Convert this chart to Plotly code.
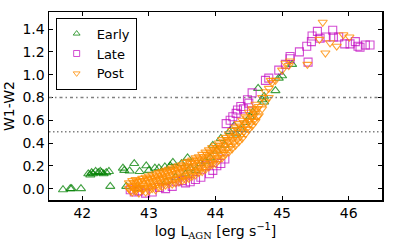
import plotly.graph_objects as go

# ---------------- data ----------------
early_x = [41.71, 41.82, 41.84, 41.98,
           42.09, 42.12, 42.14, 42.16, 42.20, 42.24, 42.27, 42.29, 42.32, 42.36, 42.40, 42.42,
           42.61, 42.63, 42.66, 42.71, 42.78, 42.84, 42.86, 42.96, 43.00, 43.09, 43.15, 43.24,
           43.26, 43.32, 43.36, 43.40, 43.49, 43.55, 43.58, 43.62, 43.70, 43.78, 43.85, 43.92,
           43.96, 44.02, 44.08, 44.14, 44.21, 44.28, 44.31, 44.38, 44.45, 44.52, 44.56, 44.64,
           44.70, 44.73, 44.73, 44.90, 44.95, 45.00, 45.15]
early_y = [-0.01, 0.00, 0.00, 0.00,
           0.13, 0.12, 0.14, 0.13, 0.15, 0.14, 0.15, 0.14, 0.13, 0.14, 0.15, 0.02,
           0.18, 0.16, 0.02, 0.155, 0.22, 0.00, 0.15, 0.20, 0.16, 0.18, 0.18, 0.19,
           0.06, 0.20, 0.23, 0.10, 0.22, 0.13, 0.27, 0.18, 0.16, 0.22, 0.24, 0.27,
           0.38, 0.33, 0.44, 0.38, 0.50, 0.55, 0.48, 0.52, 0.58, 0.63, 0.67, 0.88,
           0.78, 0.76, 0.81, 0.86, 0.97, 0.99, 1.09]

late_x = [42.72, 42.78, 42.85, 42.95, 43.05, 43.16, 43.25, 43.35, 43.41, 43.50, 43.55, 43.62,
          43.70, 43.78, 43.86, 43.91, 43.96, 44.02, 44.08, 44.14, 44.16, 44.22, 44.26, 44.31,
          44.33, 44.38, 44.42, 44.48, 44.50, 44.55, 44.75, 44.80, 44.95, 45.05, 45.12, 45.12,
          45.26, 45.37, 45.39, 45.44, 45.45, 45.53, 45.57, 45.66, 45.76, 45.77, 45.85, 45.94,
          46.02, 46.10, 46.14, 46.17, 46.25, 46.32]
late_y = [-0.01, -0.03, -0.02, -0.04, -0.03, 0.01, 0.00, 0.02, 0.06, 0.07, 0.05, 0.06,
          0.08, 0.10, 0.20, 0.13, 0.16, 0.20, 0.22, 0.26, 0.57, 0.60, 0.63, 0.66,
          0.69, 0.72, 0.70, 0.78, 0.75, 0.84, 0.95, 0.97, 1.04, 1.09, 1.16, 1.14,
          1.20, 1.25, 1.11, 1.29, 1.34, 1.38, 1.32, 1.33, 1.39, 1.33, 1.33, 1.27,
          1.27, 1.29, 1.25, 1.24, 1.26, 1.26]

post_x = [42.70, 42.70,
          42.75, 42.75, 42.75, 42.80, 42.80, 42.80, 42.85, 42.85, 42.85, 42.90, 42.90, 42.90,
          42.95, 42.95, 42.95, 43.00, 43.00, 43.00, 43.05, 43.05, 43.05, 43.10, 43.10, 43.10,
          43.15, 43.15, 43.15, 43.20, 43.20, 43.20, 43.25, 43.25, 43.25, 43.30, 43.30, 43.30,
          43.35, 43.35, 43.35, 43.40, 43.40, 43.40, 43.45, 43.45, 43.45, 43.50, 43.50, 43.50,
          43.55, 43.55, 43.55, 43.60, 43.60, 43.60, 43.65, 43.65, 43.65, 43.70, 43.70, 43.70,
          43.75, 43.75, 43.75, 43.80, 43.80, 43.80, 43.85, 43.85, 43.85, 43.90, 43.90, 43.90,
          43.95, 43.95, 43.95, 44.00, 44.00, 44.00, 44.05, 44.05, 44.05, 44.10, 44.10, 44.10,
          44.15, 44.15, 44.15, 44.20, 44.20, 44.20, 44.25, 44.25, 44.25, 44.30, 44.30, 44.30,
          44.35, 44.35, 44.35, 44.40, 44.40, 44.40, 44.45, 44.45, 44.45, 44.50, 44.50, 44.50,
          44.55, 44.55, 44.55, 44.60, 44.60, 44.60, 44.65, 44.65, 44.70, 44.70, 44.75, 44.75,
          44.80, 44.80, 44.83, 44.85, 44.90, 45.00, 45.05, 45.10, 45.12,
          45.38, 45.56, 45.61, 45.65, 45.72, 45.82, 45.92, 46.01,
          42.725, 42.725, 42.775, 42.775, 42.825, 42.825, 42.875, 42.875, 42.925, 42.925,
          42.975, 42.975, 43.025, 43.025, 43.075, 43.075, 43.125, 43.125, 43.175, 43.175,
          43.225, 43.225, 43.275, 43.275, 43.325, 43.325, 43.375, 43.375, 43.425, 43.425,
          43.475, 43.475, 43.525, 43.525, 43.575, 43.575, 43.625, 43.625, 43.675, 43.675,
          43.725, 43.725, 43.775, 43.775, 43.825, 43.825, 43.875, 43.875, 43.925, 43.925,
          43.975, 43.975, 44.025, 44.025, 44.075, 44.075, 44.125, 44.125, 44.175, 44.175,
          44.225, 44.225, 44.275, 44.275, 44.325, 44.325, 44.375, 44.375, 44.425, 44.425,
          44.475, 44.475, 44.525, 44.525, 44.575, 44.575, 44.625, 44.625]
post_y = [0.05, 0.00,
          0.07, 0.02, -0.03, 0.08, 0.03, -0.02, 0.06, 0.01, -0.04, 0.09, 0.04, -0.01,
          0.10, 0.03, -0.03, 0.11, 0.05, -0.02, 0.12, 0.06, 0.00, 0.13, 0.07, -0.01,
          0.14, 0.08, 0.01, 0.15, 0.09, 0.02, 0.16, 0.10, 0.03, 0.17, 0.11, 0.04,
          0.18, 0.12, 0.04, 0.19, 0.13, 0.05, 0.20, 0.14, 0.06, 0.21, 0.15, 0.07,
          0.23, 0.16, 0.08, 0.24, 0.17, 0.09, 0.25, 0.19, 0.11, 0.27, 0.20, 0.12,
          0.28, 0.21, 0.14, 0.30, 0.23, 0.15, 0.32, 0.25, 0.17, 0.34, 0.27, 0.19,
          0.36, 0.29, 0.21, 0.38, 0.31, 0.22, 0.40, 0.33, 0.25, 0.43, 0.35, 0.27,
          0.45, 0.38, 0.30, 0.48, 0.41, 0.32, 0.51, 0.43, 0.35, 0.54, 0.46, 0.38,
          0.57, 0.49, 0.41, 0.60, 0.52, 0.44, 0.63, 0.56, 0.48, 0.67, 0.59, 0.52,
          0.70, 0.62, 0.55, 0.74, 0.66, 0.59, 0.72, 0.64, 0.80, 0.70, 0.85, 0.76,
          0.88, 0.80, 0.95, 0.93, 0.95, 1.04, 1.10, 1.08, 1.12,
          1.09, 1.31, 1.46, 1.19, 1.28, 1.25, 1.35, 1.33,
          0.03, -0.02, 0.05, 0.00, 0.06, 0.00, 0.07, 0.01, 0.07, 0.00,
          0.08, 0.01, 0.09, 0.02, 0.10, 0.03, 0.11, 0.04, 0.12, 0.05,
          0.13, 0.06, 0.14, 0.07, 0.15, 0.08, 0.16, 0.08, 0.17, 0.09,
          0.18, 0.10, 0.19, 0.11, 0.20, 0.12, 0.22, 0.13, 0.23, 0.15,
          0.25, 0.16, 0.26, 0.18, 0.28, 0.19, 0.30, 0.21, 0.32, 0.23,
          0.34, 0.25, 0.36, 0.27, 0.38, 0.30, 0.41, 0.32, 0.43, 0.35,
          0.46, 0.37, 0.49, 0.40, 0.52, 0.43, 0.55, 0.46, 0.58, 0.50,
          0.62, 0.53, 0.65, 0.57, 0.68, 0.60, 0.70, 0.63]

x_ticks = [42, 43, 44, 45, 46]
y_ticks = [0.0, 0.2, 0.4, 0.6, 0.8, 1.0, 1.2, 1.4]
ref_lines = [0.8, 0.5]

series_names = ["Early", "Late", "Post"]
series_colors = ["rgba(0,128,0,0.75)", "rgba(191,0,191,0.7)", "rgba(255,140,0,0.8)"]
series_symbols = ["triangle-up-open", "square-open", "triangle-down-open"]

# ---------------- figure ----------------
FONT = "DejaVu Sans"
fig = go.Figure()

data_sets = [(early_x, early_y), (late_x, late_y), (post_x, post_y)]
for (xs, ys), name, col, sym in zip(data_sets, series_names, series_colors, series_symbols):
    fig.add_trace(go.Scatter(
        x=xs, y=ys, mode="markers", name=name, showlegend=False,
        marker=dict(symbol=sym, size=8, color=col, line=dict(width=1.1))))

# legend entries (smaller markers, as in the reference legend)
for name, col, sym in zip(series_names, series_colors, series_symbols):
    fig.add_trace(go.Scatter(
        x=[None], y=[None], mode="markers", name=name, showlegend=True,
        marker=dict(symbol=sym, size=6, color=col, line=dict(width=1))))

fig.add_hline(y=ref_lines[0], line=dict(color="gray", width=1.5, dash="3px,3px,1.5px,3px"))
fig.add_hline(y=ref_lines[1], line=dict(color="gray", width=1.5, dash="1.5px,2.5px"))

axis_common = dict(showgrid=False, zeroline=False, showline=True, linecolor="black",
                   linewidth=1.5, mirror="allticks", ticks="inside", ticklen=4,
                   tickcolor="black", automargin=False,
                   tickfont=dict(family=FONT, size=14, color="black"))

fig.update_xaxes(range=[41.5, 46.5], tickvals=x_ticks, ticktext=[str(t) for t in x_ticks],
                 title=dict(text="log L<sub><span style=\"font-family:'DejaVu Serif'\">AGN</span></sub> [erg s<sup>\u22121</sup>]",
                            font=dict(family=FONT, size=14, color="black"), standoff=4),
                 **axis_common)
fig.update_yaxes(range=[-0.1, 1.55], tickvals=y_ticks, tickformat=".1f",
                 title=dict(text="W1-W2", font=dict(family=FONT, size=14, color="black"),
                            standoff=4),
                 **axis_common)

fig.update_layout(
    width=407, height=244,
    margin=dict(l=49, r=25, t=12, b=44),
    plot_bgcolor="white", paper_bgcolor="white",
    font=dict(family=FONT, size=14, color="black"),
    showlegend=True,
    hovermode=False,
    legend=dict(x=0.02, y=0.97, xanchor="left", yanchor="top",
                bgcolor="white", bordercolor="black", borderwidth=1,
                font=dict(family=FONT, size=13, color="black"),
                itemsizing="trace", itemwidth=30, tracegroupgap=0),
)

fig.write_html("out.html", config={"displayModeBar": False, "staticPlot": True},
               post_script="document.body.style.margin='0px';")
